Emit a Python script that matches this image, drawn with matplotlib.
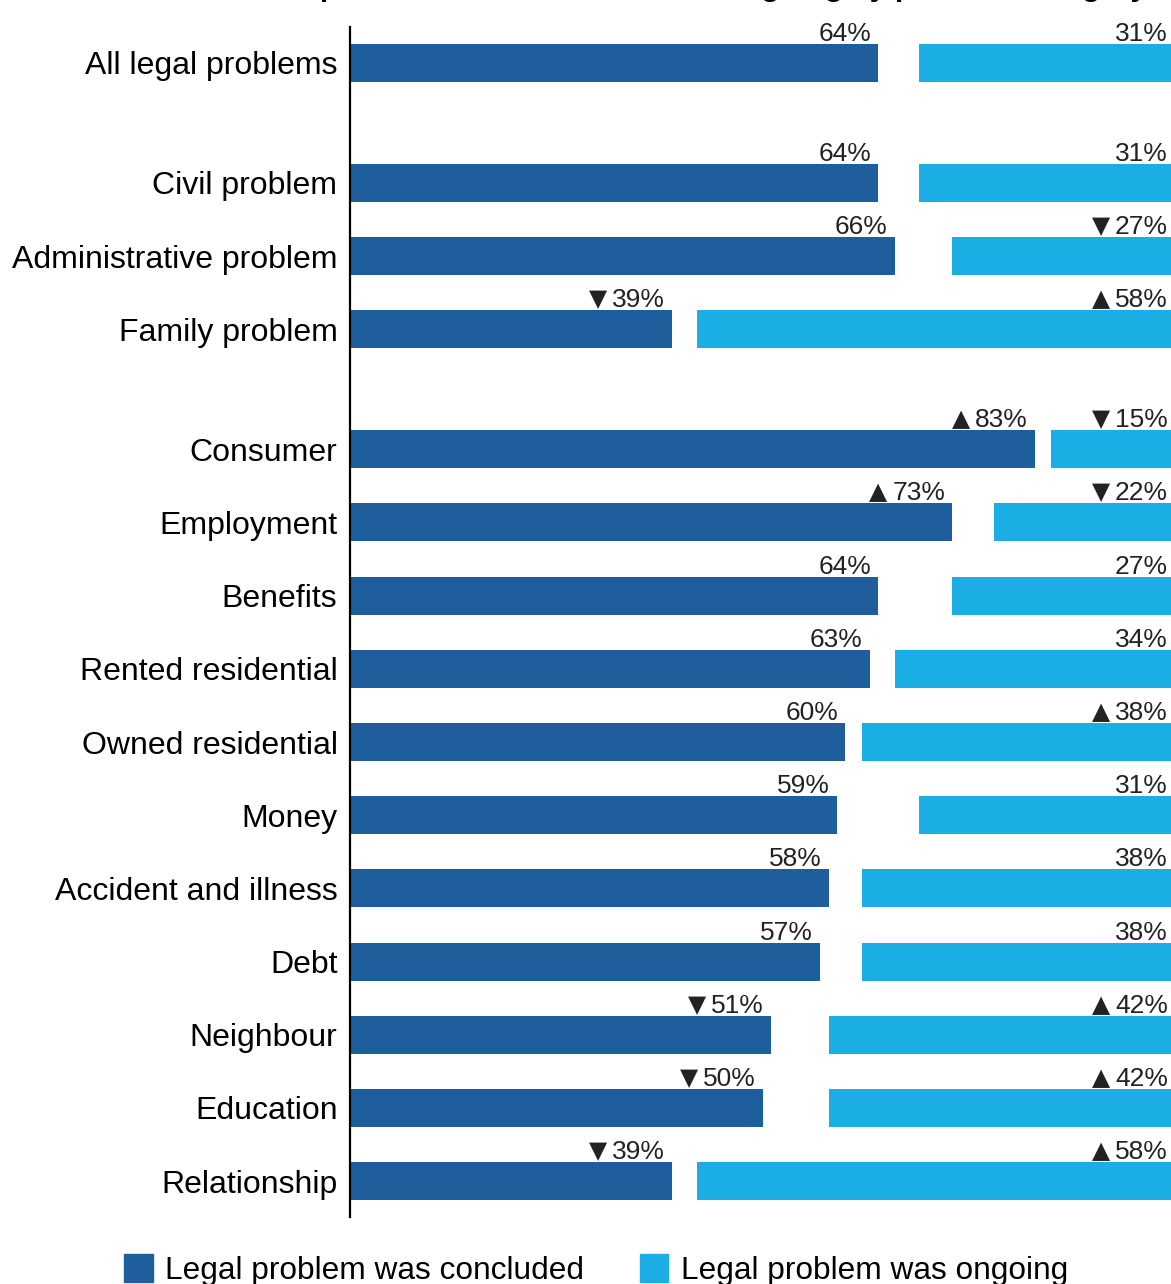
import matplotlib
matplotlib.use("Agg")
import matplotlib.pyplot as plt
from matplotlib.patches import Patch

plt.rcParams['font.family'] = ['Liberation Sans', 'DejaVu Sans']

categories = ['All legal problems', 'Civil problem', 'Administrative problem', 'Family problem',
              'Consumer', 'Employment', 'Benefits', 'Rented residential', 'Owned residential',
              'Money', 'Accident and illness', 'Debt', 'Neighbour', 'Education', 'Relationship']
groups = [0, 1, 1, 1, 2, 2, 2, 2, 2, 2, 2, 2, 2, 2, 2]
concluded = [64, 64, 66, 39, 83, 73, 64, 63, 60, 59, 58, 57, 51, 50, 39]
ongoing = [31, 31, 27, 58, 15, 22, 27, 34, 38, 31, 38, 38, 42, 42, 58]
# significance markers: 'up' / 'down' / ''
concluded_sig = ['', '', '', 'down', 'up', 'up', '', '', '', '', '', '', 'down', 'down', 'down']
ongoing_sig = ['', '', 'down', 'up', 'down', 'down', '', '', 'up', '', '', '', 'up', 'up', 'up']

dark = '#1f5e9c'
light = '#1baee4'
arrows = {'up': '\u25B2', 'down': '\u25BC'}

# row positions, with a part-row gap between groups
gap = 0.64
ypos = [i + groups[i] * gap for i in range(len(categories))]

fig = plt.figure(figsize=(11.71, 12.84), dpi=100)
ax = fig.add_axes([350 / 1171, 67 / 1284, 825 / 1171, 1190 / 1284])

h = 0.52
ax.barh(ypos, concluded, height=h, color=dark)
ax.barh(ypos, ongoing, left=[100 - v for v in ongoing], height=h, color=light)

# percentage labels first, arrows are placed after measuring them
labels = []
for y, c, o, cs, os_ in zip(ypos, concluded, ongoing, concluded_sig, ongoing_sig):
    for x, val, sig in [(c, c, cs), (100, o, os_)]:
        t = ax.annotate(f'{val}%', (x, y - h / 2), xytext=(-7, 3), textcoords='offset pixels',
                        ha='right', va='baseline', fontsize=19, color='#222222')
        labels.append((t, x, y - h / 2, sig))

ax.set_xlim(0, 100)
ax.set_ylim(ypos[-1] + 0.49, -0.49)
ax.set_yticks(ypos)
ax.set_yticklabels(categories, fontsize=23)
ax.tick_params(axis='y', length=0, pad=9)
ax.set_xticks([])
for s in ['top', 'right', 'bottom']:
    ax.spines[s].set_visible(False)
ax.spines['left'].set_linewidth(1.6)
ax.spines['left'].set_color('black')

fig.text(1147 / 1171, 1 + 4 / 1284, 'Share of problems that concluded or ongoing by problem category',
         ha='right', va='baseline', fontsize=21.7, fontweight='bold')

handles = [Patch(color=dark), Patch(color=light)]
fig.legend(handles, ['Legal problem was concluded', 'Legal problem was ongoing'],
           loc='center', bbox_to_anchor=(596 / 1171, 14 / 1284), ncol=2, frameon=False,
           fontsize=22.8, handlelength=0.9, handleheight=0.95, handletextpad=0.4,
           columnspacing=1.75)

fig.canvas.draw()
renderer = fig.canvas.get_renderer()
for t, x, y, sig in labels:
    if sig:
        w = t.get_window_extent(renderer).width
        ax.annotate(arrows[sig], (x, y), xytext=(-7 - w - 5, 4), textcoords='offset pixels',
                    ha='right', va='baseline', fontsize=17, color='#222222',
                    family='DejaVu Sans')

fig.savefig('out.png', dpi=100)
